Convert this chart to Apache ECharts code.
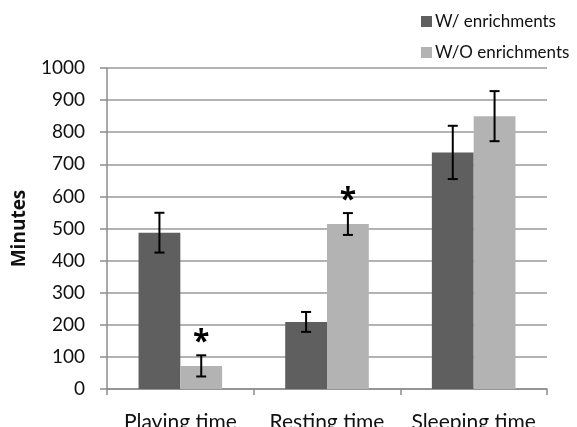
<!DOCTYPE html>
<html>
<head>
<meta charset="utf-8">
<script src="https://cdn.jsdelivr.net/npm/echarts@6/dist/echarts.min.js"></script>
<style>
  html, body { margin: 0; padding: 0; background: #fff; }
  #chartmain { width: 577px; height: 427px; }
</style>
</head>
<body>
<div id="chartmain"></div>
<script>
// 数据
var categories = ['Playing time', 'Resting time', 'Sleeping time'];
var seriesNames = ['W/ enrichments', 'W/O enrichments'];
var withValues = [487, 209, 737];
var withErr = [62, 31, 83];
var withoutValues = [72, 514, 850];
var withoutErr = [33, 34, 78];
// 显著性标记 (W/O 柱上方的 *)
var withoutStar = [true, true, false];
var yTicks = [0, 100, 200, 300, 400, 500, 600, 700, 800, 900, 1000];

var font = 'Lato, "Open Sans", sans-serif';
var catGap = 0.43;

function errData(vals, errs, stars) {
  return vals.map(function (v, i) {
    return [i, v, errs[i], stars ? (stars[i] ? 1 : 0) : 0];
  });
}

function errRender(side) {
  return function (params, api) {
    var idx = api.value(0);
    var v = api.value(1);
    var e = api.value(2);
    var star = api.value(3);
    var band = api.size([1, 0])[0];
    var bw = band * (1 - catGap) / 2;
    var x = api.coord([idx, v])[0] + side * bw / 2;
    var top = api.coord([idx, v + e])[1];
    var bot = api.coord([idx, v - e])[1];
    var cap = 5;
    var st = { stroke: '#000', lineWidth: 2 };
    var children = [
      { type: 'line', shape: { x1: x, y1: top, x2: x, y2: bot }, style: st },
      { type: 'line', shape: { x1: x - cap, y1: top, x2: x + cap, y2: top }, style: st },
      { type: 'line', shape: { x1: x - cap, y1: bot, x2: x + cap, y2: bot }, style: st }
    ];
    if (star) {
      children.push({
        type: 'text',
        style: {
          text: '*', x: x, y: top + 2,
          align: 'center', verticalAlign: 'bottom',
          font: 'bold 30px "Open Sans", sans-serif', fill: '#000'
        }
      });
    }
    return { type: 'group', children: children };
  };
}

var myChart = echarts.init(document.getElementById('chartmain'));
myChart.setOption({
  animation: false,
  grid: { left: 107, right: 30, top: 68, bottom: 38, outerBoundsMode: 'none', containLabel: false },
  legend: {
    orient: 'vertical',
    left: 416,
    top: 8,
    itemWidth: 11,
    itemHeight: 11,
    itemGap: 14,
    icon: 'rect',
    textStyle: { fontFamily: font, fontSize: 17, color: '#111', padding: [0, 0, 0, -2] },
    data: seriesNames
  },
  xAxis: {
    type: 'category',
    data: categories,
    axisLine: { lineStyle: { color: '#8c8c8c', width: 1.5 } },
    axisTick: { show: true, length: 6, lineStyle: { color: '#8c8c8c', width: 1.5 } },
    axisLabel: { fontFamily: font, fontSize: 21, color: '#111', margin: 23, interval: 0, hideOverlap: false }
  },
  yAxis: {
    type: 'value',
    min: 0,
    max: 1000,
    interval: 100,
    name: 'Minutes',
    nameLocation: 'middle',
    nameGap: 78,
    nameTextStyle: { fontFamily: '"Open Sans", sans-serif', fontSize: 19, fontWeight: 'bold', color: '#111' },
    axisLine: { show: true, lineStyle: { color: '#8c8c8c', width: 1.5 } },
    axisTick: { show: true, length: 7, lineStyle: { color: '#8c8c8c', width: 1.5 } },
    splitLine: { lineStyle: { color: '#9a9a9a', width: 1.5 } },
    axisLabel: {
      fontFamily: font, fontSize: 19, color: '#111', margin: 22,
      formatter: function (v) { return yTicks.indexOf(v) >= 0 ? String(v) : ''; }
    }
  },
  series: [
    {
      name: seriesNames[0],
      type: 'bar',
      data: withValues,
      barGap: '0%',
      barCategoryGap: (catGap * 100) + '%',
      itemStyle: { color: '#5f5f5f' }
    },
    {
      name: seriesNames[1],
      type: 'bar',
      data: withoutValues,
      itemStyle: { color: '#b3b3b3' }
    },
    {
      type: 'custom',
      renderItem: errRender(-1),
      data: errData(withValues, withErr),
      z: 10
    },
    {
      type: 'custom',
      renderItem: errRender(1),
      data: errData(withoutValues, withoutErr, withoutStar),
      z: 10
    }
  ]
});
</script>
</body>
</html>
